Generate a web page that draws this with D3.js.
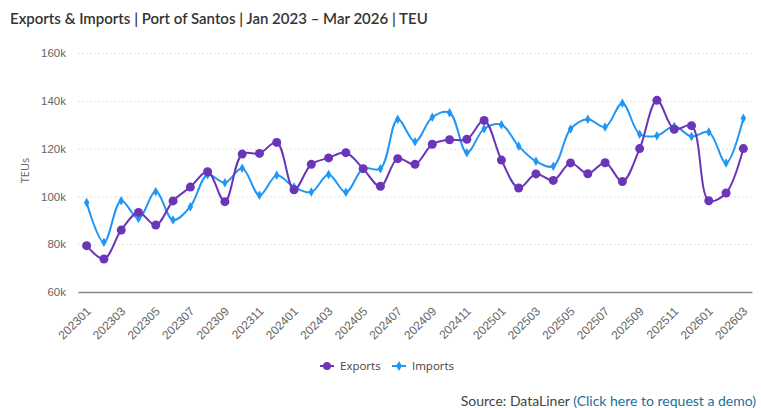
<!DOCTYPE html>
<html>
<head>
<meta charset="utf-8">
<script src="https://cdn.jsdelivr.net/npm/d3@7"></script>
<style>
  body { margin: 0; background: #fff; font-family: "Open Sans", sans-serif; }
  .grid line { stroke: #e3e3e3; stroke-dasharray: 2,2; }
  .tick text { fill: #666; font-size: 11px; }
</style>
</head>
<body>
<div id="chart"></div>
<script>
var svgWidth = 761;
var svgHeight = 408;

var margin = { top: 53, right: 9, bottom: 116, left: 78 };
var width = svgWidth - margin.left - margin.right;
var height = svgHeight - margin.top - margin.bottom;

// months 202301 .. 202603
var months = [
  "202301","202302","202303","202304","202305","202306","202307","202308","202309","202310","202311","202312",
  "202401","202402","202403","202404","202405","202406","202407","202408","202409","202410","202411","202412",
  "202501","202502","202503","202504","202505","202506","202507","202508","202509","202510","202511","202512",
  "202601","202602","202603"
];

var exportsTeu = [
  79.4, 73.8, 85.9, 93.3, 88.0, 98.1, 103.9, 110.3, 97.8, 117.7, 118.0, 122.6,
  102.8, 113.4, 116.1, 118.3, 111.6, 104.2, 115.8, 113.4, 121.8, 123.7, 123.9, 131.8,
  115.2, 103.5, 109.4, 106.7, 114.0, 109.5, 114.1, 106.2, 120.0, 140.2, 128.1, 129.6,
  98.2, 101.4, 120.0
];

var importsTeu = [
  97.4, 80.8, 98.2, 90.8, 102.0, 90.1, 95.7, 109.1, 105.7, 111.8, 100.5, 108.8,
  103.9, 101.8, 109.2, 101.7, 111.6, 111.6, 132.3, 122.9, 133.1, 135.0, 118.3, 128.3,
  130.0, 121.0, 114.7, 112.6, 128.2, 132.3, 129.0, 139.0, 126.0, 125.4, 129.3, 125.1,
  126.9, 114.0, 132.7
];

var yTicks = [60, 80, 100, 120, 140, 160];

var exportColor = "#6a35b9";
var importColor = "#2196f3";

var svg = d3.select("#chart")
  .append("svg")
  .attr("width", svgWidth)
  .attr("height", svgHeight);

// title
svg.append("text")
  .attr("x", 10)
  .attr("y", 24)
  .attr("fill", "#333")
  .style("font-family", "Lato, 'Open Sans', sans-serif")
  .style("font-size", "15px")
  .style("font-weight", "600")
  .text("Exports & Imports | Port of Santos | Jan 2023 \u2013 Mar 2026 | TEU");

var chartGroup = svg.append("g")
  .attr("transform", `translate(${margin.left}, ${margin.top})`);

var xScale = d3.scaleBand()
  .domain(months)
  .range([0, width]);

var yScale = d3.scaleLinear()
  .domain([60, 160])
  .range([height, 0]);

var xPos = function(i) { return xScale(months[i]) + xScale.bandwidth() / 2; };

// grid
chartGroup.append("g")
  .attr("class", "grid")
  .call(d3.axisLeft(yScale).tickValues(yTicks).tickSize(-width).tickFormat(""))
  .call(g => g.select(".domain").remove())
  .call(g => g.selectAll(".tick").filter(d => d === 60).remove());

// y axis labels
chartGroup.append("g")
  .call(d3.axisLeft(yScale).tickValues(yTicks).tickSize(0).tickPadding(12).tickFormat(d => d + "k"))
  .call(g => g.select(".domain").remove())
  .selectAll("text")
  .style("font-size", "11.5px");

// x axis
var xAxis = chartGroup.append("g")
  .attr("transform", `translate(0, ${height})`)
  .call(d3.axisBottom(xScale)
    .tickValues(months.filter((m, i) => i % 2 === 0))
    .tickSize(0));

xAxis.select(".domain").attr("stroke", "#888").attr("stroke-width", 1.5);

xAxis.selectAll("text")
  .style("text-anchor", "end")
  .style("font-size", "12px")
  .attr("x", 0)
  .attr("y", 0)
  .attr("dy", "0.35em")
  .attr("transform", "translate(2, 17) rotate(-45)");

// y axis title
chartGroup.append("text")
  .attr("transform", "rotate(-90)")
  .attr("x", 0 - height / 2 + 2)
  .attr("y", -49)
  .attr("text-anchor", "middle")
  .attr("fill", "#666")
  .style("font-size", "11px")
  .text("TEUs");

var line = d3.line()
  .x((d, i) => xPos(i))
  .y(d => yScale(d))
  .curve(d3.curveCatmullRom.alpha(0.5));

// imports
chartGroup.append("path")
  .datum(importsTeu)
  .attr("fill", "none")
  .attr("stroke", importColor)
  .attr("stroke-width", 2)
  .attr("d", line);

chartGroup.selectAll(".imp")
  .data(importsTeu)
  .enter()
  .append("path")
  .attr("class", "imp")
  .attr("transform", (d, i) => `translate(${xPos(i)}, ${yScale(d)})`)
  .attr("d", d3.symbol().type(d3.symbolDiamond).size(26))
  .attr("fill", importColor);

// exports
chartGroup.append("path")
  .datum(exportsTeu)
  .attr("fill", "none")
  .attr("stroke", exportColor)
  .attr("stroke-width", 2)
  .attr("d", line);

chartGroup.selectAll(".exp")
  .data(exportsTeu)
  .enter()
  .append("circle")
  .attr("class", "exp")
  .attr("cx", (d, i) => xPos(i))
  .attr("cy", d => yScale(d))
  .attr("r", 4.5)
  .attr("fill", exportColor);

// legend
var legend = svg.append("g")
  .attr("transform", "translate(320, 366)");

var items = [
  { name: "Exports", color: exportColor, sym: d3.symbolCircle, size: 50 },
  { name: "Imports", color: importColor, sym: d3.symbolDiamond, size: 30 }
];

items.forEach(function(it, k) {
  var g = legend.append("g").attr("transform", `translate(${k * 72}, 0)`);
  g.append("line")
    .attr("x1", 0).attr("x2", 14)
    .attr("stroke", it.color).attr("stroke-width", 2);
  g.append("path")
    .attr("transform", "translate(7, 0)")
    .attr("d", d3.symbol().type(it.sym).size(it.size))
    .attr("fill", it.color);
  g.append("text")
    .attr("x", 20)
    .attr("y", 4)
    .attr("fill", "#444")
    .style("font-size", "11.5px")
    .text(it.name);
});

// source
var src = svg.append("text")
  .attr("x", 756)
  .attr("y", 406)
  .attr("text-anchor", "end")
  .style("font-family", "Lato, 'Open Sans', sans-serif")
  .style("font-size", "14px");

src.append("tspan").attr("fill", "#444").text("Source: DataLiner ");
src.append("tspan").attr("fill", "#1f6e9c").text("(Click here to request a demo)");
</script>
</body>
</html>
